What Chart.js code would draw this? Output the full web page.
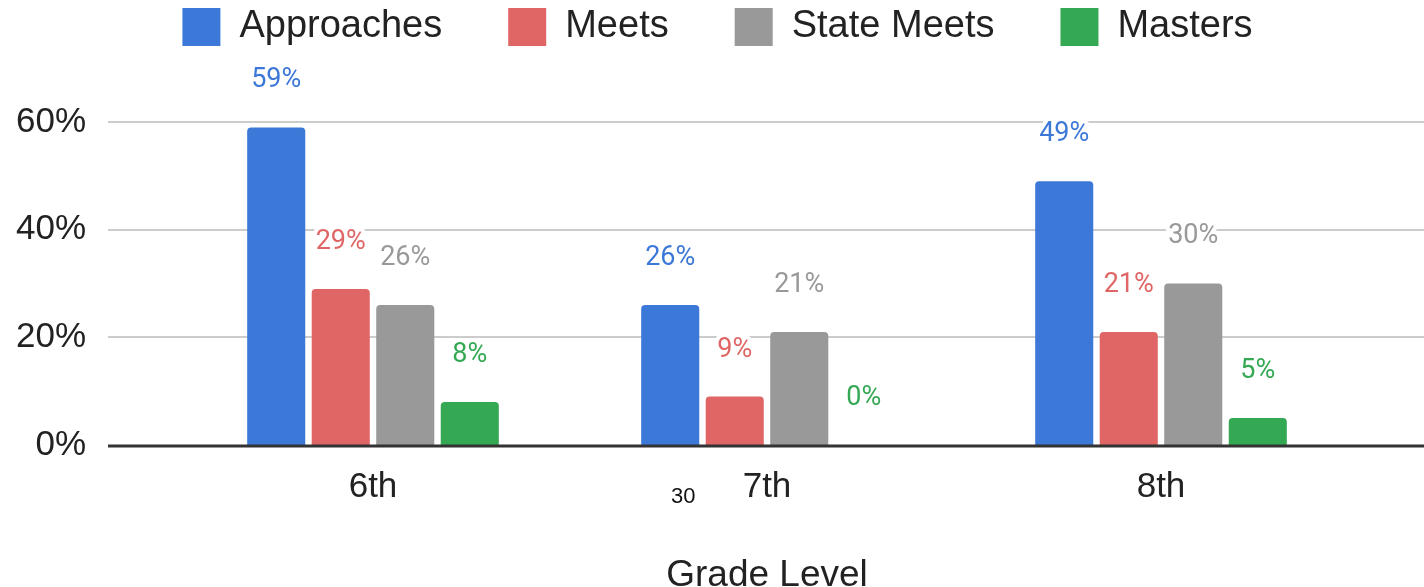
<!DOCTYPE html>
<html>
<head>
<meta charset="utf-8">
<script src="https://cdn.jsdelivr.net/npm/chart.js@4.4.0/dist/chart.umd.min.js"></script>
<style>
  html, body { margin: 0; padding: 0; background: #fff; overflow: hidden; }
  #wrap { position: absolute; left: 0; top: -58px; width: 1435px; height: 652px; }
  #pageNum { position: absolute; left: 671px; top: 485px; font: 22px "Liberation Sans", Arial, sans-serif; line-height: 1; color: #111; }
</style>
</head>
<body>
<div id="wrap"><canvas id="gradeChart"></canvas></div>
<div id="pageNum">30</div>
<script>
// data
const grades = ['6th', '7th', '8th'];
const approaches = [59, 26, 49];
const meets = [29, 9, 21];
const stateMeets = [26, 21, 30];
const masters = [8, 0, 5];
const yTicks = [0, 20, 40, 60];

const seriesNames = ['Approaches', 'Meets', 'State Meets', 'Masters'];
const seriesColors = ['#3c78d8', '#e06666', '#999999', '#34a853'];

const FONT = '"Liberation Sans", Arial, sans-serif';

// grid lines run past the plot area like in the sheet export
const gridPlugin = {
    id: 'sheetGrid',
    beforeDatasetsDraw(chart) {
        const ctx = chart.ctx;
        const y = chart.scales.y;
        ctx.save();
        ctx.strokeStyle = '#cccccc';
        ctx.lineWidth = 2;
        y.ticks.forEach(t => {
            if (t.value === 0) return;
            const py = Math.round(y.getPixelForValue(t.value));
            ctx.beginPath();
            ctx.moveTo(108, py);
            ctx.lineTo(chart.width, py);
            ctx.stroke();
        });
        ctx.restore();
    },
    afterDatasetsDraw(chart) {
        const ctx = chart.ctx;
        const py = Math.round(chart.scales.y.getPixelForValue(0)) + 1;
        ctx.save();
        ctx.strokeStyle = '#333333';
        ctx.lineWidth = 3;
        ctx.beginPath();
        ctx.moveTo(108, py);
        ctx.lineTo(chart.width, py);
        ctx.stroke();

        // value labels above the bars
        ctx.font = '27px Roboto, "Noto Sans", sans-serif';
        ctx.textAlign = 'center';
        ctx.textBaseline = 'alphabetic';
        ctx.lineJoin = 'round';
        chart.data.datasets.forEach((ds, i) => {
            const meta = chart.getDatasetMeta(i);
            meta.data.forEach((bar, j) => {
                const txt = ds.data[j] + '%';
                const ty = bar.y - 40;
                ctx.lineWidth = 8;
                ctx.strokeStyle = '#ffffff';
                ctx.strokeText(txt, bar.x, ty);
                ctx.fillStyle = ds.backgroundColor;
                ctx.fillText(txt, bar.x, ty);
            });
        });
        ctx.restore();
    }
};

const ctx = document.getElementById('gradeChart').getContext('2d');
new Chart(ctx, {
    type: 'bar',
    data: {
        labels: grades,
        datasets: [approaches, meets, stateMeets, masters].map((vals, i) => ({
            label: seriesNames[i],
            data: vals,
            backgroundColor: seriesColors[i],
            borderRadius: { topLeft: 4, topRight: 4 },
            borderSkipped: 'start',
            categoryPercentage: 0.655,
            barPercentage: 0.9
        }))
    },
    options: {
        responsive: true,
        maintainAspectRatio: false,
        animation: false,
        layout: { padding: 0 },
        plugins: {
            legend: {
                position: 'top',
                labels: {
                    boxWidth: 38,
                    boxHeight: 38,
                    padding: 66,
                    color: '#222222',
                    font: { family: FONT, size: 38 }
                }
            },
            tooltip: { enabled: false }
        },
        scales: {
            x: {
                grid: { display: false, drawTicks: false },
                border: { display: false },
                ticks: { color: '#222222', padding: 21, font: { family: FONT, size: 35 } },
                title: {
                    display: true,
                    text: 'Grade Level',
                    color: '#222222',
                    font: { family: FONT, size: 37, lineHeight: 1 },
                    padding: { top: 28, bottom: 0 }
                }
            },
            y: {
                min: 0,
                max: 72.26,
                grid: { display: false, drawTicks: false },
                border: { display: false },
                ticks: {
                    stepSize: 20,
                    padding: 90,
                    color: '#222222',
                    font: { family: FONT, size: 35 },
                    callback: v => v + '%'
                },
                afterBuildTicks: s => {
                    s.ticks = yTicks.map(v => ({ value: v }));
                },
                afterFit: s => { s.width = 176; }
            },
            // empty right-hand axis, only reserves the space right of the plot
            yRight: {
                type: 'linear',
                position: 'right',
                grid: { display: false, drawTicks: false },
                border: { display: false },
                ticks: { display: false },
                afterFit: s => { s.width = 77; }
            }
        }
    },
    plugins: [gridPlugin]
});
</script>
</body>
</html>
